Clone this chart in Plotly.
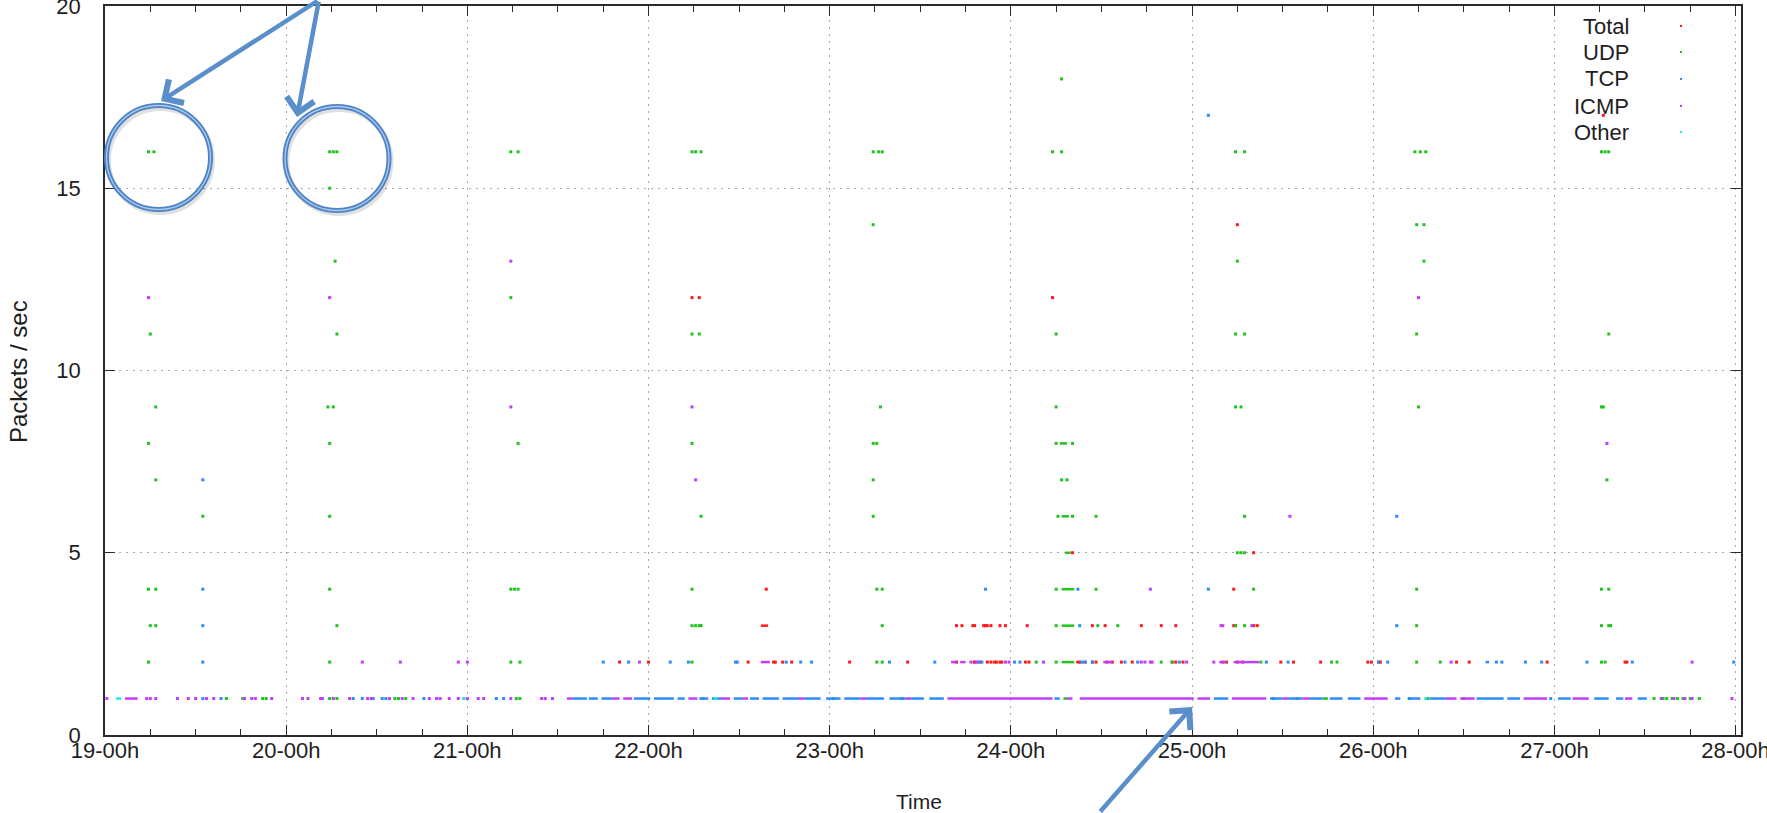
import plotly.graph_objects as go

# ---------------- data ----------------
day_ticks = [19, 20, 21, 22, 23, 24, 25, 26, 27, 28]
day_labels = ["19-00h", "20-00h", "21-00h", "22-00h", "23-00h",
              "24-00h", "25-00h", "26-00h", "27-00h", "28-00h"]
y_ticks = [0, 5, 10, 15, 20]

series_names = ["Total", "UDP", "TCP", "ICMP", "Other"]
series_colors = ["#ff1a1a", "#1fc41f", "#2b8cff", "#c23cff", "#20e6e6"]

# isolated samples: (day, packets/sec)
total_points = [
    (27.27, 17), (25.25, 14), (22.24, 12), (22.28, 12), (24.23, 12),
    (24.34, 5), (25.34, 5), (22.65, 4), (25.23, 4),
    (23.70, 3), (23.73, 3), (23.79, 3), (23.80, 3), (23.85, 3), (23.86, 3), (23.87, 3),
    (23.89, 3), (23.94, 3), (23.97, 3), (24.09, 3), (24.45, 3), (24.52, 3), (24.72, 3),
    (24.83, 3), (24.91, 3), (25.23, 3), (25.24, 3), (25.34, 3), (25.36, 3),
    (21.84, 2), (22.00, 2), (22.55, 2), (22.69, 2), (22.70, 2), (22.74, 2), (22.79, 2),
    (23.11, 2), (23.43, 2), (23.70, 2), (23.80, 2), (23.83, 2), (23.87, 2), (23.89, 2),
    (23.91, 2), (23.92, 2), (23.94, 2), (23.95, 2), (24.08, 2), (24.10, 2), (24.38, 2),
    (24.41, 2), (24.45, 2), (24.47, 2), (24.53, 2), (24.56, 2), (24.61, 2), (24.67, 2),
    (24.89, 2), (24.91, 2), (24.95, 2), (25.17, 2), (25.19, 2), (25.25, 2), (25.28, 2),
    (25.49, 2), (25.56, 2), (25.71, 2), (25.97, 2), (25.99, 2), (26.03, 2), (26.04, 2),
    (26.46, 2), (26.53, 2), (26.96, 2), (27.39, 2), (27.40, 2),
]
total_runs = [(22.62, 22.66, 3), (23.79, 23.81, 2), (24.36, 24.40, 2)]

udp_points = [
    (19.24, 16), (19.27, 16), (19.25, 11), (19.28, 9), (19.24, 8), (19.28, 7),
    (19.24, 4), (19.28, 4), (19.25, 3), (19.28, 3), (19.24, 2), (19.54, 6),
    (19.67, 1), (19.76, 1), (19.87, 1), (19.89, 1),
    (20.24, 16), (20.26, 16), (20.28, 16), (20.24, 15), (20.27, 13), (20.28, 11),
    (20.23, 9), (20.26, 9), (20.24, 8), (20.24, 6), (20.24, 4), (20.28, 3), (20.24, 2),
    (20.24, 1), (20.28, 1), (20.60, 1), (20.62, 1), (20.66, 1),
    (21.24, 16), (21.28, 16), (21.24, 12), (21.28, 8), (21.24, 4), (21.26, 4), (21.28, 4),
    (21.24, 2), (21.29, 2), (21.27, 1), (21.29, 1),
    (22.24, 16), (22.26, 16), (22.29, 16), (22.24, 11), (22.28, 11), (22.24, 8), (22.29, 6),
    (22.24, 4), (22.24, 3), (22.26, 3), (22.28, 3), (22.29, 3), (22.24, 2), (22.30, 1),
    (23.24, 16), (23.27, 16), (23.29, 16), (23.24, 14), (23.28, 9), (23.24, 8), (23.26, 8),
    (23.24, 7), (23.24, 6), (23.26, 4), (23.29, 4), (23.29, 3), (23.26, 2), (23.29, 2),
    (23.02, 1), (23.40, 1),
    (24.28, 18), (24.23, 16), (24.28, 16), (24.25, 11), (24.25, 9), (24.28, 7), (24.31, 7),
    (24.25, 8), (24.34, 8), (24.26, 6), (24.34, 6), (24.47, 6), (24.25, 4), (24.47, 4),
    (24.25, 3), (24.48, 3), (24.59, 3), (24.14, 2), (24.25, 2), (24.83, 2), (24.89, 2),
    (25.24, 16), (25.29, 16), (25.25, 13), (25.24, 11), (25.29, 11), (25.24, 9), (25.27, 9),
    (25.29, 6), (25.25, 5), (25.27, 5), (25.29, 5), (25.34, 4), (25.24, 3), (25.29, 3),
    (25.38, 2), (25.77, 2), (25.80, 2), (25.45, 1), (25.58, 1),
    (26.23, 16), (26.26, 16), (26.29, 16), (26.24, 14), (26.28, 14), (26.28, 13),
    (26.24, 11), (26.25, 9), (26.24, 4), (26.24, 3), (26.24, 2), (26.37, 2),
    (26.20, 1), (26.30, 1), (26.50, 1),
    (27.26, 16), (27.28, 16), (27.30, 16), (27.30, 11), (27.26, 9), (27.27, 9), (27.29, 7),
    (27.26, 4), (27.30, 4), (27.26, 3), (27.30, 3), (27.31, 3), (27.26, 2), (27.28, 2),
    (27.55, 1), (27.60, 1), (27.62, 1), (27.65, 1), (27.68, 1), (27.71, 1), (27.75, 1), (27.80, 1),
]
udp_runs = [(24.27, 24.31, 8), (24.28, 24.32, 6), (24.30, 24.33, 5), (24.28, 24.35, 4),
            (24.28, 24.35, 3), (24.28, 24.35, 2), (24.29, 24.31, 1), (25.72, 25.75, 1)]

tcp_points = [
    (25.09, 17), (19.54, 7), (26.13, 6), (19.54, 4), (23.86, 4), (24.37, 4), (25.09, 4),
    (19.54, 3), (24.38, 3), (26.13, 3),
    (19.54, 2), (21.75, 2), (21.89, 2), (22.12, 2), (22.22, 2), (22.48, 2), (22.49, 2),
    (22.76, 2), (22.84, 2), (22.90, 2), (23.33, 2), (23.58, 2), (23.82, 2), (23.84, 2),
    (24.02, 2), (24.05, 2), (24.45, 2), (24.63, 2), (24.70, 2), (24.93, 2), (25.41, 2),
    (25.53, 2), (26.03, 2), (26.08, 2), (26.68, 2), (26.71, 2), (26.84, 2), (26.93, 2),
    (27.18, 2), (27.43, 2), (27.99, 2),
    (19.54, 1), (19.64, 1), (20.37, 1), (20.42, 1), (20.48, 1), (20.53, 1), (20.55, 1),
    (20.76, 1), (21.16, 1), (21.20, 1), (26.98, 1),
]
tcp_runs = [
    (26.62, 26.64, 2), (24.38, 24.42, 2),
    (21.58, 21.66, 1), (21.67, 21.72, 1), (21.74, 21.80, 1), (21.92, 22.01, 1),
    (22.03, 22.14, 1), (22.16, 22.20, 1), (22.28, 22.33, 1), (22.35, 22.40, 1),
    (22.47, 22.52, 1), (22.56, 22.61, 1), (22.63, 22.72, 1), (22.74, 22.83, 1),
    (22.86, 22.95, 1), (22.98, 23.06, 1), (23.08, 23.17, 1), (23.20, 23.30, 1),
    (23.33, 23.42, 1), (23.45, 23.52, 1), (23.55, 23.63, 1), (24.24, 24.27, 1),
    (25.12, 25.20, 1), (25.43, 25.50, 1), (25.53, 25.61, 1), (25.65, 25.72, 1),
    (25.76, 25.83, 1), (25.86, 25.93, 1), (26.12, 26.15, 1), (26.19, 26.26, 1),
    (26.31, 26.40, 1), (26.57, 26.72, 1), (26.74, 26.81, 1), (27.02, 27.09, 1),
    (27.22, 27.30, 1), (27.34, 27.38, 1), (27.46, 27.51, 1),
]

icmp_points = [
    (19.24, 12), (20.24, 12), (26.25, 12), (21.24, 13), (21.24, 9), (22.24, 9), (22.26, 7),
    (27.29, 8), (25.54, 6), (24.77, 4), (25.16, 3), (25.17, 3), (25.33, 3),
    (20.42, 2), (20.63, 2), (20.95, 2), (21.00, 2), (21.95, 2), (23.78, 2), (23.81, 2),
    (23.97, 2), (23.99, 2), (24.18, 2), (24.72, 2), (24.74, 2), (24.77, 2), (24.78, 2),
    (24.97, 2), (25.12, 2), (26.43, 2), (27.76, 2),
    (19.01, 1), (19.23, 1), (19.25, 1), (19.28, 1), (19.40, 1), (19.46, 1), (19.50, 1),
    (19.56, 1), (19.60, 1), (19.77, 1), (19.81, 1), (19.83, 1), (19.92, 1), (20.09, 1),
    (20.12, 1), (20.19, 1), (20.20, 1), (20.26, 1), (20.35, 1), (20.45, 1), (20.47, 1),
    (20.57, 1), (20.64, 1), (20.70, 1), (20.79, 1), (20.83, 1), (20.85, 1), (20.90, 1),
    (20.95, 1), (21.00, 1), (21.06, 1), (21.09, 1), (21.24, 1), (21.41, 1), (21.43, 1),
    (21.47, 1), (27.59, 1), (27.66, 1), (27.72, 1), (27.76, 1), (27.98, 1),
]
icmp_runs = [
    (22.62, 22.67, 2), (23.67, 23.70, 2), (23.72, 23.75, 2), (24.51, 24.56, 2),
    (25.15, 25.19, 2), (25.23, 25.37, 2),
    (19.11, 19.18, 1), (21.55, 21.58, 1), (21.80, 21.84, 1), (21.86, 21.91, 1),
    (22.22, 22.27, 1), (22.40, 22.45, 1), (22.52, 22.55, 1), (22.83, 22.86, 1),
    (23.17, 23.20, 1), (23.42, 23.45, 1), (23.65, 24.23, 1), (24.31, 24.34, 1),
    (24.38, 25.01, 1), (25.03, 25.10, 1), (25.22, 25.41, 1), (25.50, 25.53, 1),
    (25.61, 25.65, 1), (25.95, 26.08, 1), (26.40, 26.46, 1), (26.48, 26.56, 1),
    (26.83, 26.96, 1), (27.10, 27.19, 1), (27.39, 27.43, 1),
]

other_points = [(20.98, 1), (22.37, 1), (26.29, 1)]
other_runs = [(19.06, 19.09, 1)]

all_points = [total_points, udp_points, tcp_points, icmp_points, other_points]
all_runs = [total_runs, udp_runs, tcp_runs, icmp_runs, other_runs]

# ---------------- layout geometry (pixels) ----------------
W, H = 1767, 813
PL, PR, PT, PB = 105, 1741, 6, 735


def px(x):
    return (x - PL) / (PR - PL)


def py(y):
    return (PB - y) / (PB - PT)


fig = go.Figure()

for name, color, pts, runs in zip(series_names, series_colors, all_points, all_runs):
    rx, ry = [], []
    for t0, t1, v in runs:
        rx += [t0, t1, None]
        ry += [v, v, None]
    fig.add_trace(go.Scatter(x=rx, y=ry, mode="lines", name=name, showlegend=False,
                             line=dict(color=color, width=2.5), hoverinfo="skip"))
    fig.add_trace(go.Scatter(x=[p[0] for p in pts], y=[p[1] for p in pts], mode="markers",
                             name=name, showlegend=False,
                             marker=dict(color=color, size=3, symbol="square",
                                         line=dict(width=0))))

FONT = "Liberation Sans, Arial"
axis_common = dict(
    showline=True, linecolor="#2a2a2a", linewidth=1.5, mirror="allticks",
    ticks="inside", ticklen=10, tickwidth=1.3, tickcolor="#2a2a2a",
    showgrid=True, gridcolor="#a8a8a8", gridwidth=1, griddash="2px,5px",
    zeroline=False, ticklabeloverflow="allow",
    tickfont=dict(family=FONT, size=22, color="#1e1e1e"),
)

fig.update_xaxes(range=[19, 28.03], tickvals=day_ticks, ticktext=day_labels,
                 minor=dict(dtick=0.25, tick0=19, ticks="inside", ticklen=6,
                            tickcolor="#2a2a2a", tickwidth=1.3, showgrid=False),
                 ticklabelstandoff=-5, **axis_common)
fig.update_yaxes(range=[0, 20], tickvals=y_ticks, ticktext=[str(v) for v in y_ticks],
                 ticklabelstandoff=18, **axis_common)

anns = []
font_txt = dict(family=FONT, size=21, color="#1e1e1e")
# axis titles
anns.append(dict(text="Time", x=px(919), y=py(801), xref="paper", yref="paper",
                 xanchor="center", yanchor="middle", showarrow=False, font=font_txt))
anns.append(dict(text="Packets / sec", x=px(19), y=py(372), xref="paper", yref="paper",
                 xanchor="center", yanchor="middle", showarrow=False, textangle=-90,
                 font=dict(family=FONT, size=24, color="#1e1e1e")))

# gnuplot-style key: right-aligned labels, tiny sample dot on the right
key_rows = [26, 52, 79, 106, 132]
shapes = []
for name, color, ry in zip(series_names, series_colors, key_rows):
    anns.append(dict(text=name, x=px(1631), y=py(ry), xref="paper", yref="paper",
                     xanchor="right", yanchor="middle", showarrow=False,
                     font=dict(family=FONT, size=22, color="#1e1e1e")))
    shapes.append(dict(type="rect", xref="paper", yref="paper",
                       x0=px(1680), x1=px(1682), y0=py(ry + 1), y1=py(ry - 1),
                       fillcolor=color, line=dict(width=0)))

# callout arrows
arrow_color = "#5a8fcc"
for tip, off in [((161, 101), (158, -101)), ((297, 117), (22, -117)),
                 ((1192, 707), (-93, 106))]:
    anns.append(dict(text="", x=px(tip[0]), y=py(tip[1]), xref="paper", yref="paper",
                     ax=off[0], ay=off[1], axref="pixel", ayref="pixel",
                     showarrow=True, arrowhead=4, arrowsize=1.2, arrowwidth=4.5,
                     arrowcolor=arrow_color, standoff=0, startstandoff=0))

# callout circles
for cx, cy, r in [(158.5, 157.5, 52), (337, 158.5, 52)]:
    shapes.append(dict(type="circle", xref="paper", yref="paper",
                       x0=px(cx - r + 2), x1=px(cx + r + 2), y0=py(cy + r + 3), y1=py(cy - r + 3),
                       line=dict(color="rgba(0,0,0,0.12)", width=5)))
    shapes.append(dict(type="circle", xref="paper", yref="paper",
                       x0=px(cx - r), x1=px(cx + r), y0=py(cy + r), y1=py(cy - r),
                       line=dict(color="#4f84c4", width=5)))
    shapes.append(dict(type="circle", xref="paper", yref="paper",
                       x0=px(cx - r), x1=px(cx + r), y0=py(cy + r), y1=py(cy - r),
                       line=dict(color="#a9c9f0", width=1.3)))

fig.update_layout(
    width=W, height=H,
    margin=dict(l=PL, r=W - PR, t=PT, b=H - PB, autoexpand=False),
    paper_bgcolor="white", plot_bgcolor="white",
    showlegend=False, annotations=anns, shapes=shapes,
)

fig.write_html("out.html", config={"displayModeBar": False},
               post_script="document.body.style.margin='0px';")
